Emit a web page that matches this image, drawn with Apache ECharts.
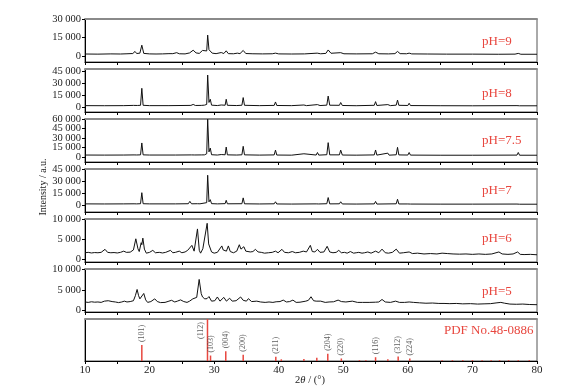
<!DOCTYPE html>
<html>
<head>
<meta charset="utf-8">
<script src="https://cdn.jsdelivr.net/npm/echarts@6/dist/echarts.min.js"></script>
<style>
html, body { margin: 0; padding: 0; background: #fff; }
#chart { width: 582px; height: 388px; }
</style>
</head>
<body>
<div id="chart"></div>
<script>
// XRD patterns: [2theta, intensity]
var pH9 = [[10,1500],[12,1400],[14,1600],[15.5,1500],[16.5,1700],[17.4,1900],[17.75,3600],[18.0,1900],[18.5,2200],[18.8,8700],[19.1,2000],[20,1600],[21,1500],[22,1600],[23,1800],[23.3,2300],[23.6,1800],[24.2,2600],[24.6,1700],[25.5,1600],[26.2,2400],[26.75,4600],[27.2,2400],[27.7,2000],[28.2,4400],[28.5,2800],[28.85,4000],[29.0,16900],[29.2,5000],[29.4,4200],[29.7,2200],[30.3,1800],[31.1,2700],[31.5,1900],[31.87,4100],[32.2,1800],[33,1700],[33.6,2200],[34.0,1800],[34.5,4400],[34.9,1900],[36,1700],[37.5,1600],[39.0,1700],[39.5,2200],[40,1600],[42,1500],[44,1600],[45.96,2200],[46.5,1700],[47.3,2000],[47.66,4800],[48.1,2100],[49.6,2600],[50.1,1700],[52,1600],[54.5,1700],[55.0,3000],[55.5,1700],[57,1600],[58.0,1800],[58.4,3600],[58.8,1800],[59.8,1700],[60.2,2200],[60.6,1600],[63,1500],[66,1400],[70,1400],[74,1300],[76.6,1400],[77.1,2000],[77.5,1300],[80,1300]];
var pH8 = [[10,2000],[13,1900],[16,2000],[17.5,2300],[17.8,3750],[18.1,2200],[18.6,2400],[18.8,23750],[19.0,2400],[20,2000],[23,2000],[26.4,2300],[26.75,3500],[27.1,2200],[28.0,2300],[28.25,3800],[28.5,2600],[28.85,3500],[29.0,40400],[29.2,6000],[29.4,10000],[29.6,2600],[30.5,2100],[31.1,2800],[31.4,2200],[31.7,2500],[31.87,10000],[32.05,2400],[33.5,2100],[34.3,2500],[34.5,12100],[34.7,2400],[37,2000],[39.3,2300],[39.5,6600],[39.7,2200],[42,2000],[43.9,2800],[44.3,2000],[46.0,3300],[46.4,2100],[47.45,2600],[47.66,14000],[47.9,2500],[49.4,2400],[49.6,5900],[49.85,2200],[52,1900],[54.8,2400],[55.0,7000],[55.2,2200],[56.9,3300],[57.3,2000],[58.2,2600],[58.4,9000],[58.6,2400],[60.0,2200],[60.2,5000],[60.4,2100],[65,1900],[70,1800],[76.9,2000],[77.1,4000],[77.3,1800],[80,1800]];
var pH75 = [[10,3000],[13,2900],[16,3000],[17.6,3200],[17.8,4800],[18.0,3100],[18.6,3300],[18.8,22100],[19.0,3300],[20,3000],[24,3000],[26.5,3200],[26.75,4500],[27.0,3100],[28.0,3200],[28.25,5000],[28.5,3300],[28.85,5000],[29.0,59800],[29.2,8000],[29.4,14000],[29.6,3500],[30.5,3000],[31.1,3800],[31.4,3100],[31.7,3400],[31.87,15600],[32.05,3300],[33.5,3000],[34.3,3400],[34.5,16800],[34.7,3300],[37,2900],[39.3,3200],[39.5,10800],[39.7,3000],[42,2800],[43.9,5000],[44.2,2800],[45.8,3000],[46.0,7000],[46.2,2900],[47.45,3500],[47.66,22600],[47.9,3300],[49.4,3300],[49.6,10800],[49.85,3000],[52,2800],[54.8,3200],[55.0,11000],[55.2,2900],[56.9,6000],[57.1,2800],[58.2,3400],[58.4,15200],[58.6,3200],[60.0,3000],[60.2,7000],[60.4,2900],[65,2700],[70,2700],[76.9,2900],[77.1,7000],[77.3,2700],[80,2700]];
var pH7 = [[10,2000],[13,1900],[16,2000],[17.6,2100],[17.8,3000],[18.0,2000],[18.6,2200],[18.8,15800],[19.0,2200],[20,2000],[24,2000],[26.0,2200],[26.24,5100],[26.5,2100],[27.4,2200],[27.6,3000],[27.8,2100],[28.85,3500],[29.0,37300],[29.2,4500],[29.4,7200],[29.6,2300],[30.5,2000],[31.7,2300],[31.87,6400],[32.05,2100],[34.3,2200],[34.5,9400],[34.7,2100],[37,1900],[39.3,2100],[39.5,4600],[39.7,1900],[42,1800],[45.8,2000],[46.0,3000],[46.2,1900],[47.45,2200],[47.66,9800],[47.9,2000],[49.4,2100],[49.6,4600],[49.85,1900],[52,1800],[54.8,2000],[55.0,5000],[55.2,1800],[58.2,2100],[58.4,7700],[58.6,1900],[60.0,1900],[60.2,3500],[60.4,1800],[65,1700],[70,1700],[76.9,1800],[77.1,3000],[77.3,1600],[80,1600]];
var pH6 = [[10,1600],[10.5,1700],[11,1550],[11.5,1650],[12,1600],[12.5,1700],[13.1,2450],[13.5,1700],[14,1600],[14.5,1650],[15,1550],[15.5,1700],[16.0,2000],[16.4,1700],[17,1750],[17.5,2300],[17.87,5070],[18.2,2600],[18.4,1900],[18.7,4100],[18.8,3600],[18.96,5240],[19.2,2500],[19.5,1500],[20,1700],[20.5,2200],[20.9,1600],[21.5,1700],[22,1550],[22.5,1700],[23.24,2200],[23.6,1600],[24,1700],[24.6,2000],[25,1600],[25.5,1800],[25.9,2200],[26.2,1900],[26.55,3440],[26.9,2000],[27.1,2300],[27.42,7530],[27.7,2200],[27.9,1500],[28.25,2600],[28.5,2300],[28.92,8930],[29.15,3800],[29.3,3440],[29.6,1800],[30,1500],[30.5,1700],[31.19,3300],[31.4,2300],[31.6,2700],[31.9,2000],[32.2,3300],[32.5,1900],[33,1600],[33.5,2000],[33.9,3600],[34.15,2500],[34.3,2900],[34.45,2600],[34.6,3100],[34.9,2000],[35.2,2300],[35.6,1800],[36.0,1900],[36.4,2450],[36.8,1800],[37.3,1700],[37.8,1500],[38.4,1600],[39,1700],[39.5,2000],[39.9,1600],[40.5,2450],[40.9,1700],[41.5,1600],[42.1,1900],[42.6,1600],[43.2,1700],[43.8,2000],[44.3,1800],[44.9,3440],[45.2,1900],[45.6,1800],[46.0,2450],[46.4,1700],[47.0,1800],[47.5,3200],[47.9,1800],[48.4,1600],[48.9,1700],[49.3,2200],[49.7,1600],[50.2,1700],[50.6,1500],[51.1,1900],[51.6,1500],[52.0,1600],[52.4,1700],[52.9,1500],[53.3,1600],[53.8,1800],[54.3,1500],[55.0,2000],[55.5,1600],[56.0,2500],[56.5,1600],[57,1500],[57.6,1700],[58.2,2500],[58.7,1500],[59.3,1600],[60.2,1800],[60.7,1400],[61.5,1500],[62.5,1300],[63.5,1400],[64.5,1300],[65.3,1500],[66.1,1400],[67,1300],[68,1250],[69,1300],[70,1200],[71,1300],[72,1200],[73,1300],[74.1,1800],[74.6,1300],[75.5,1200],[76.3,1300],[77.0,1800],[77.4,1200],[78,1150],[79,1200],[80,1100]];
var pH5 = [[10,2100],[10.5,2000],[11,2150],[11.5,2050],[12,2100],[12.5,2000],[13,2300],[13.3,2700],[13.6,2400],[13.8,2600],[14.2,2200],[14.7,2100],[15.2,1950],[15.7,2100],[16.1,2300],[16.5,2100],[17,2200],[17.5,2400],[17.8,3600],[18.07,5100],[18.3,3600],[18.5,2850],[18.8,3300],[19.1,4140],[19.4,2600],[19.7,2000],[20.2,2200],[20.8,2850],[21.2,2200],[21.7,1950],[22.4,2000],[23,2300],[23.4,2500],[23.9,2100],[24.3,2300],[24.8,2600],[25.3,2200],[25.8,2000],[26.2,2300],[26.7,2850],[27.0,2500],[27.3,3200],[27.68,7500],[28.0,4100],[28.2,3300],[28.55,2850],[28.9,2900],[29.2,3400],[29.6,2300],[30.1,2400],[30.5,3300],[30.9,2300],[31.5,3200],[31.9,2300],[32.4,3000],[32.8,2300],[33.4,2400],[34.1,3300],[34.5,2500],[35.0,2300],[35.3,2900],[35.8,2200],[36.6,2300],[37.2,2100],[37.9,2000],[38.5,2100],[39.1,2000],[39.6,2150],[40.2,2200],[40.7,2550],[41.2,2100],[41.7,2200],[42.2,2550],[42.7,2000],[43.3,2050],[44.2,2300],[44.6,2500],[45.0,3350],[45.4,2400],[45.8,2300],[46.5,2300],[47.2,2000],[47.8,2100],[48.5,2150],[49.2,2550],[49.7,2200],[50.4,2100],[51.4,2300],[52.2,2000],[53,2000],[54,2000],[55,2050],[55.5,2100],[56.0,2700],[56.5,2100],[57.3,2000],[58.1,2300],[58.7,2000],[59.5,2000],[60.2,2100],[60.9,2000],[61.8,1900],[62.8,1800],[63.8,1850],[64.8,1750],[65.6,1750],[66.5,1700],[67.5,1750],[68.5,1650],[69.7,1700],[70.8,1600],[71.8,1650],[72.8,1700],[73.8,1900],[74.4,2000],[75,1800],[75.8,1600],[76.8,1550],[77.8,1600],[78.8,1500],[80,1450]];

// standard card PDF No.48-0886 (relative intensity %)
var pdfPos = [18.8, 28.97, 29.44, 31.8, 34.5, 39.55, 40.4, 43.9, 45.9, 47.6, 49.7, 52.5, 53.5, 55.0, 56.9, 58.5, 60.3, 65.3, 66.9, 68.5, 70.0, 71.5, 72.9, 74.2, 75.6, 77.1, 78.8];
var pdfInt = [38, 100, 13, 23, 15, 10, 4, 5, 8, 17, 6, 2, 2, 9, 4, 11, 6, 2, 2, 2, 2, 2, 2, 2, 2, 2, 2];
var pdfHkl = ['(101)', '(112)', '(103)', '(004)', '(200)', '(211)', '', '', '', '(204)', '(220)', '', '', '(116)', '', '(312)', '(224)', '', '', '', '', '', '', '', '', '', ''];

var panelNames = ['pH=9', 'pH=8', 'pH=7.5', 'pH=7', 'pH=6', 'pH=5', 'PDF No.48-0886'];
// pH=7.5 labels sit closer than the label height, so they are split over two axes
// (one label set per axis) to keep ECharts from hiding any as overlaps
var yTicks = [[0, 15000, 30000], [0, 15000, 30000, 45000], [0, 30000, 60000], [0, 15000, 30000, 45000], [0, 5000, 10000], [0, 5000, 10000], []];
var yTicks75b = [15000, 45000];
var xTicks = [10, 15, 20, 25, 30, 35, 40, 45, 50, 55, 60, 65, 70, 75, 80];

var patterns = [pH9, pH8, pH75, pH7, pH6, pH5];
var yMin = [-5000, -6000, -8000, -8000, -700, -300, 0];
var yMax = [30000, 48000, 60000, 45000, 10000, 10000, 100];

var serif = "'Liberation Serif', 'DejaVu Serif', serif";
var red = '#e8473f';

function fmt(v) {
    return String(v).replace(/\B(?=(\d{3})+(?!\d))/g, ' ');
}

function yAxisFor(i, ticks, showLine) {
    var last = (i == 6);
    return {
        gridIndex: i, type: 'value', position: 'left', offset: 0,
        min: yMin[i], max: yMax[i],
        axisLine: { show: showLine, onZero: false, lineStyle: { color: '#000', width: 1 } },
        axisTick: { show: !last, length: 3, customValues: ticks, lineStyle: { color: '#000' } },
        axisLabel: {
            show: !last, customValues: ticks, formatter: fmt,
            hideOverlap: false, showMaxLabel: true, showMinLabel: true,
            fontFamily: serif, fontSize: 10.5, color: '#222', margin: 4
        },
        splitLine: { show: false }
    };
}

var chart = echarts.init(document.getElementById('chart'), null, { renderer: 'canvas' });

var grids = [], xAxes = [], yAxes = [], series = [], texts = [];
var labelTop = [43, 95, 142, 192, 240, 293, 332];

for (var i = 0; i < 7; i++) {
    var last = (i == 6);
    grids.push({
        left: 85, right: 45, top: 19 + 50 * i, height: last ? 42 : 43,
        show: true, borderColor: '#555', borderWidth: 1, backgroundColor: 'transparent'
    });
    // bottom axis
    xAxes.push({
        gridIndex: i, type: 'value', min: 10, max: 80, position: 'bottom',
        axisLine: { onZero: false, lineStyle: { color: '#000', width: 1.2 } },
        axisTick: { show: true, inside: false, length: 3, customValues: xTicks, lineStyle: { color: '#000' } },
        axisLabel: {
            show: last, customValues: [10, 20, 30, 40, 50, 60, 70, 80],
            fontFamily: serif, fontSize: 11, color: '#222', margin: 4
        },
        splitLine: { show: false }
    });
    // top frame line
    xAxes.push({
        gridIndex: i, type: 'value', min: 10, max: 80, position: 'top',
        axisLine: { onZero: false, lineStyle: { color: '#8a8a8a', width: 2 } },
        axisTick: { show: false }, axisLabel: { show: false }, splitLine: { show: false }
    });
    yAxes.push(yAxisFor(i, yTicks[i], true));
    if (!last) {
        series.push({
            type: 'line', xAxisIndex: 2 * i, yAxisIndex: i,
            data: patterns[i], showSymbol: false, symbol: 'none',
            lineStyle: { color: '#111', width: 1 }, silent: true
        });
    }
    texts.push({
        type: 'text', left: last ? 444 : 482, top: labelTop[i] - 8,
        style: { text: panelNames[i], fill: red, font: '13px ' + serif }
    });
}
yAxes.push(yAxisFor(2, yTicks75b, false));

// standard lines
series.push({
    type: 'bar', xAxisIndex: 12, yAxisIndex: 6, barWidth: 1.5,
    data: pdfPos.map(function (p, k) { return [p, pdfInt[k]]; }),
    itemStyle: { color: red }, silent: true
});

var hklData = [];
for (var k = 0; k < pdfPos.length; k++) {
    if (!pdfHkl[k]) continue;
    var item = { value: [pdfPos[k], pdfInt[k]], name: pdfHkl[k] };
    if (pdfHkl[k] == '(112)') item.label = { offset: [-23, -7] };
    hklData.push(item);
}
series.push({
    type: 'scatter', xAxisIndex: 12, yAxisIndex: 6, symbolSize: 0,
    data: hklData, silent: true,
    label: {
        show: true, formatter: '{b}', position: 'top', distance: 3, rotate: 90,
        align: 'left', verticalAlign: 'middle',
        fontFamily: serif, fontSize: 8, color: '#333'
    }
});

texts.push({
    type: 'text', x: 43, y: 187, rotation: Math.PI / 2,
    style: { text: 'Intensity / a.u.', fill: '#222', font: '10px ' + serif, align: 'center', verticalAlign: 'middle' }
});
texts.push({
    type: 'text', x: 310, y: 380,
    style: {
        text: '2{i|θ} / (°)', fill: '#222', font: '10.5px ' + serif, align: 'center', verticalAlign: 'middle',
        rich: { i: { fontStyle: 'italic', fontFamily: serif, fontSize: 10.5, fill: '#222' } }
    }
});

chart.setOption({
    animation: false,
    backgroundColor: '#fff',
    grid: grids,
    xAxis: xAxes,
    yAxis: yAxes,
    series: series,
    graphic: texts
});
</script>
</body>
</html>
